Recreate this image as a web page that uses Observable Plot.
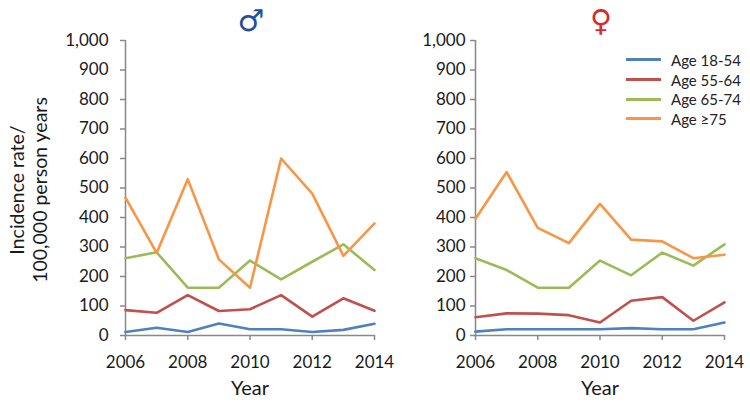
<!DOCTYPE html>
<html><head><meta charset="utf-8">
<script src="https://cdn.jsdelivr.net/npm/d3@7"></script>
<script src="https://cdn.jsdelivr.net/npm/@observablehq/plot@0.6"></script>
<style>
body{margin:0;background:#fff;font-family:Lato,sans-serif}
#wrap{position:relative;width:750px;height:405px;overflow:hidden;background:#fff}
#wrap > svg{position:absolute;top:0}
#legend{position:absolute;left:626px;top:50px;font:15px Lato,sans-serif;color:#222}
#legend .row{display:flex;align-items:center;height:19.7px}
#legend .sw{width:35px;height:3px;margin-right:10px}
</style></head><body><div id="wrap"></div>
<script>
const years = [2006, 2007, 2008, 2009, 2010, 2011, 2012, 2013, 2014];
const groups = ["Age 18-54", "Age 55-64", "Age 65-74", "Age ≥75"];
const colors = ["#4f81bd", "#c0504d", "#9bbb59", "#f79646"];

// Male
const male18_54 = [12, 26, 12, 41, 21, 21, 12, 19, 40];
const male55_64 = [86, 77, 137, 83, 89, 137, 64, 126, 84];
const male65_74 = [262, 282, 162, 162, 254, 190, 250, 309, 222];
const male75 = [467, 280, 530, 258, 162, 600, 481, 270, 380];

// Female
const female18_54 = [13, 21, 21, 21, 21, 25, 21, 21, 44];
const female55_64 = [62, 75, 74, 69, 44, 118, 130, 50, 112];
const female65_74 = [262, 222, 162, 162, 254, 204, 281, 237, 309];
const female75 = [396, 554, 365, 313, 446, 325, 319, 262, 274];

const yTicks = [0, 100, 200, 300, 400, 500, 600, 700, 800, 900, 1000];
const xTicks = [2006, 2008, 2010, 2012, 2014];
const yTitle = "Incidence rate/\n100,000 person years";
const xTitle = "Year";

function rowsOf(seriesList) {
  const rows = [];
  seriesList.forEach((vals, i) => vals.forEach((v, j) => rows.push({year: years[j], group: groups[i], value: v})));
  return rows;
}

const font = "Lato, sans-serif";

function panel(rows, symbol, symbolColor, yPadding, showYTitle) {
  const marks = [
    Plot.axisY({ticks: yTicks, tickFormat: d3.format(",d"), tickSize: 5, tickPadding: yPadding, stroke: "#888", fill: "#1a1a1a", fontSize: 17, label: null, strokeWidth: 1.5}),
    Plot.axisX({ticks: xTicks, tickFormat: "d", tickSize: 5, tickPadding: 15, stroke: "#888", fill: "#1a1a1a", fontSize: 17, label: null, strokeWidth: 1.5}),
    Plot.ruleX([years[0]], {stroke: "#888", strokeWidth: 1.5}),
    Plot.ruleY([0], {stroke: "#888", strokeWidth: 1.5}),
    Plot.line(rows, {x: "year", y: "value", stroke: "group", strokeWidth: 2.6}),
    Plot.text([symbol], {frameAnchor: "top", dy: -31, dx: 1, fill: symbolColor, fontSize: 30, fontFamily: "DejaVu Sans"}),
    Plot.text([xTitle], {frameAnchor: "bottom", dy: 59, fill: "#1a1a1a", fontSize: 20})
  ];
  if (showYTitle) {
    marks.push(Plot.text([yTitle], {frameAnchor: "left", textAnchor: "middle", dx: -97, dy: 2, rotate: -90, fill: "#1a1a1a", fontSize: 19.5, lineHeight: 1.18}));
  }
  return Plot.plot({
    width: 400, height: 405,
    marginLeft: 125, marginRight: 26, marginTop: 40, marginBottom: 70,
    style: {background: "transparent", overflow: "visible", fontFamily: font},
    x: {domain: [2006, 2014]},
    y: {domain: [0, 1000]},
    color: {domain: groups, range: colors},
    marks
  });
}

const wrap = document.getElementById("wrap");
const left = panel(rowsOf([male18_54, male55_64, male65_74, male75]), "♂", "#1f4e9a", 12, true);
left.style.left = "0px";
wrap.appendChild(left);
const right = panel(rowsOf([female18_54, female55_64, female65_74, female75]), "♀", "#d42b2f", 5, false);
right.style.left = "350px";
wrap.appendChild(right);

const legend = document.createElement("div");
legend.id = "legend";
groups.forEach((g, i) => {
  const row = document.createElement("div");
  row.className = "row";
  const sw = document.createElement("span");
  sw.className = "sw";
  sw.style.background = colors[i];
  const t = document.createElement("span");
  t.textContent = g;
  row.appendChild(sw); row.appendChild(t);
  legend.appendChild(row);
});
wrap.appendChild(legend);
</script></body></html>
